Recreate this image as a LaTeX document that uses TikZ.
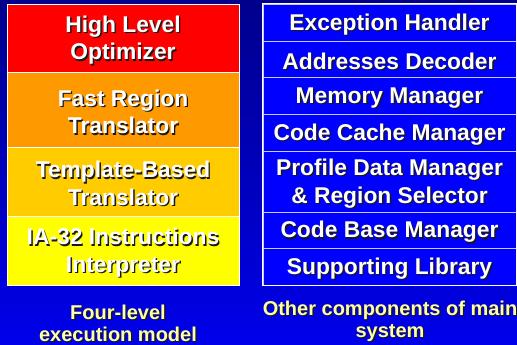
\documentclass[tikz,border=0pt]{standalone}
\usepackage{fontspec}
\setmainfont{Liberation Sans}
\usetikzlibrary{calc}

\definecolor{bgtop}{RGB}{0,0,140}
\definecolor{bgbot}{RGB}{0,0,235}
\definecolor{lvred}{RGB}{255,0,0}
\definecolor{lvorange}{RGB}{255,153,0}
\definecolor{lvamber}{RGB}{255,204,0}
\definecolor{lvyellow}{RGB}{255,255,0}
\definecolor{compblue}{RGB}{0,0,255}
\definecolor{seplav}{RGB}{200,200,255}
\definecolor{capyellow}{RGB}{255,255,170}

\tikzset{
  boxL/.style={draw=white, line width=0.9pt, minimum width=232pt, inner sep=0pt},
  boxR/.style={draw=seplav, line width=0.9pt, fill=compblue, minimum width=253pt, inner sep=0pt},
  lbl/.style={text=white, font=\bfseries\fontsize{22.8}{27.5}\selectfont, align=center, inner sep=0pt, yshift=-2pt},
  captiontext/.style={text=capyellow, font=\bfseries\fontsize{20}{22}\selectfont, align=center, inner sep=0pt},
  dropshadow/.style={text=black!90, xshift=1.4pt, yshift=-1.4pt},
}

% text with a dark drop shadow: name, position, style, text
\newcommand\shadowlabel[4]{%
  \node[#3,dropshadow] at (#2) {#4};
  \node[#3] (#1) at (#2) {#4};
}

\begin{document}
\begin{tikzpicture}[x=1pt,y=-1pt]
  \shade[top color=bgtop, bottom color=bgbot] (0,0) rectangle (517,345);
  \clip (0,0) rectangle (517,345);

  % four-level execution model
  \node[boxL, fill=lvred,    minimum height=68.5pt] (hlo) at (123,38.25) {};
  \node[boxL, fill=lvorange, minimum height=74.5pt] (frt) at (123,109.75) {};
  \node[boxL, fill=lvamber,  minimum height=69pt]   (tbt) at (123,181.5) {};
  \node[boxL, fill=lvyellow, minimum height=69pt]   (int) at (123,250.5) {};

  \shadowlabel{hlo-t}{hlo}{lbl}{High Level\\Optimizer}
  \shadowlabel{frt-t}{frt}{lbl}{Fast Region\\Translator}
  \shadowlabel{tbt-t}{tbt}{lbl}{Template-Based\\Translator}
  \shadowlabel{int-t}{int}{lbl}{IA-32 Instructions\\Interpreter}

  % other components
  \node[boxR, minimum height=37pt]   (exh) at (389.5,22.5) {};
  \node[boxR, minimum height=36.5pt] (add) at (389.5,59.25) {};
  \node[boxR, minimum height=36.5pt] (mem) at (389.5,95.75) {};
  \node[boxR, minimum height=37pt]   (ccm) at (389.5,132.5) {};
  \node[boxR, minimum height=61pt]   (pdm) at (389.5,181.5) {};
  \node[boxR, minimum height=36pt]   (cbm) at (389.5,230) {};
  \node[boxR, minimum height=37pt]   (sup) at (389.5,266.5) {};
  \draw[white, line width=0.9pt] (exh.north west) rectangle (sup.south east);

  \shadowlabel{exh-t}{exh}{lbl}{Exception Handler}
  \shadowlabel{add-t}{add}{lbl}{Addresses Decoder}
  \shadowlabel{mem-t}{mem}{lbl}{Memory Manager}
  \shadowlabel{ccm-t}{ccm}{lbl}{Code Cache Manager}
  \shadowlabel{pdm-t}{pdm}{lbl}{Profile Data Manager\\\& Region Selector}
  \shadowlabel{cbm-t}{cbm}{lbl}{Code Base Manager}
  \shadowlabel{sup-t}{sup}{lbl}{Supporting Library}

  % captions
  \coordinate (capL) at (118,323);
  \coordinate (capR) at (390,321);
  \shadowlabel{capL-t}{capL}{captiontext}{Four-level\\execution model}
  \shadowlabel{capR-t}{capR}{captiontext}{Other components of main\\system}
\end{tikzpicture}
\end{document}
